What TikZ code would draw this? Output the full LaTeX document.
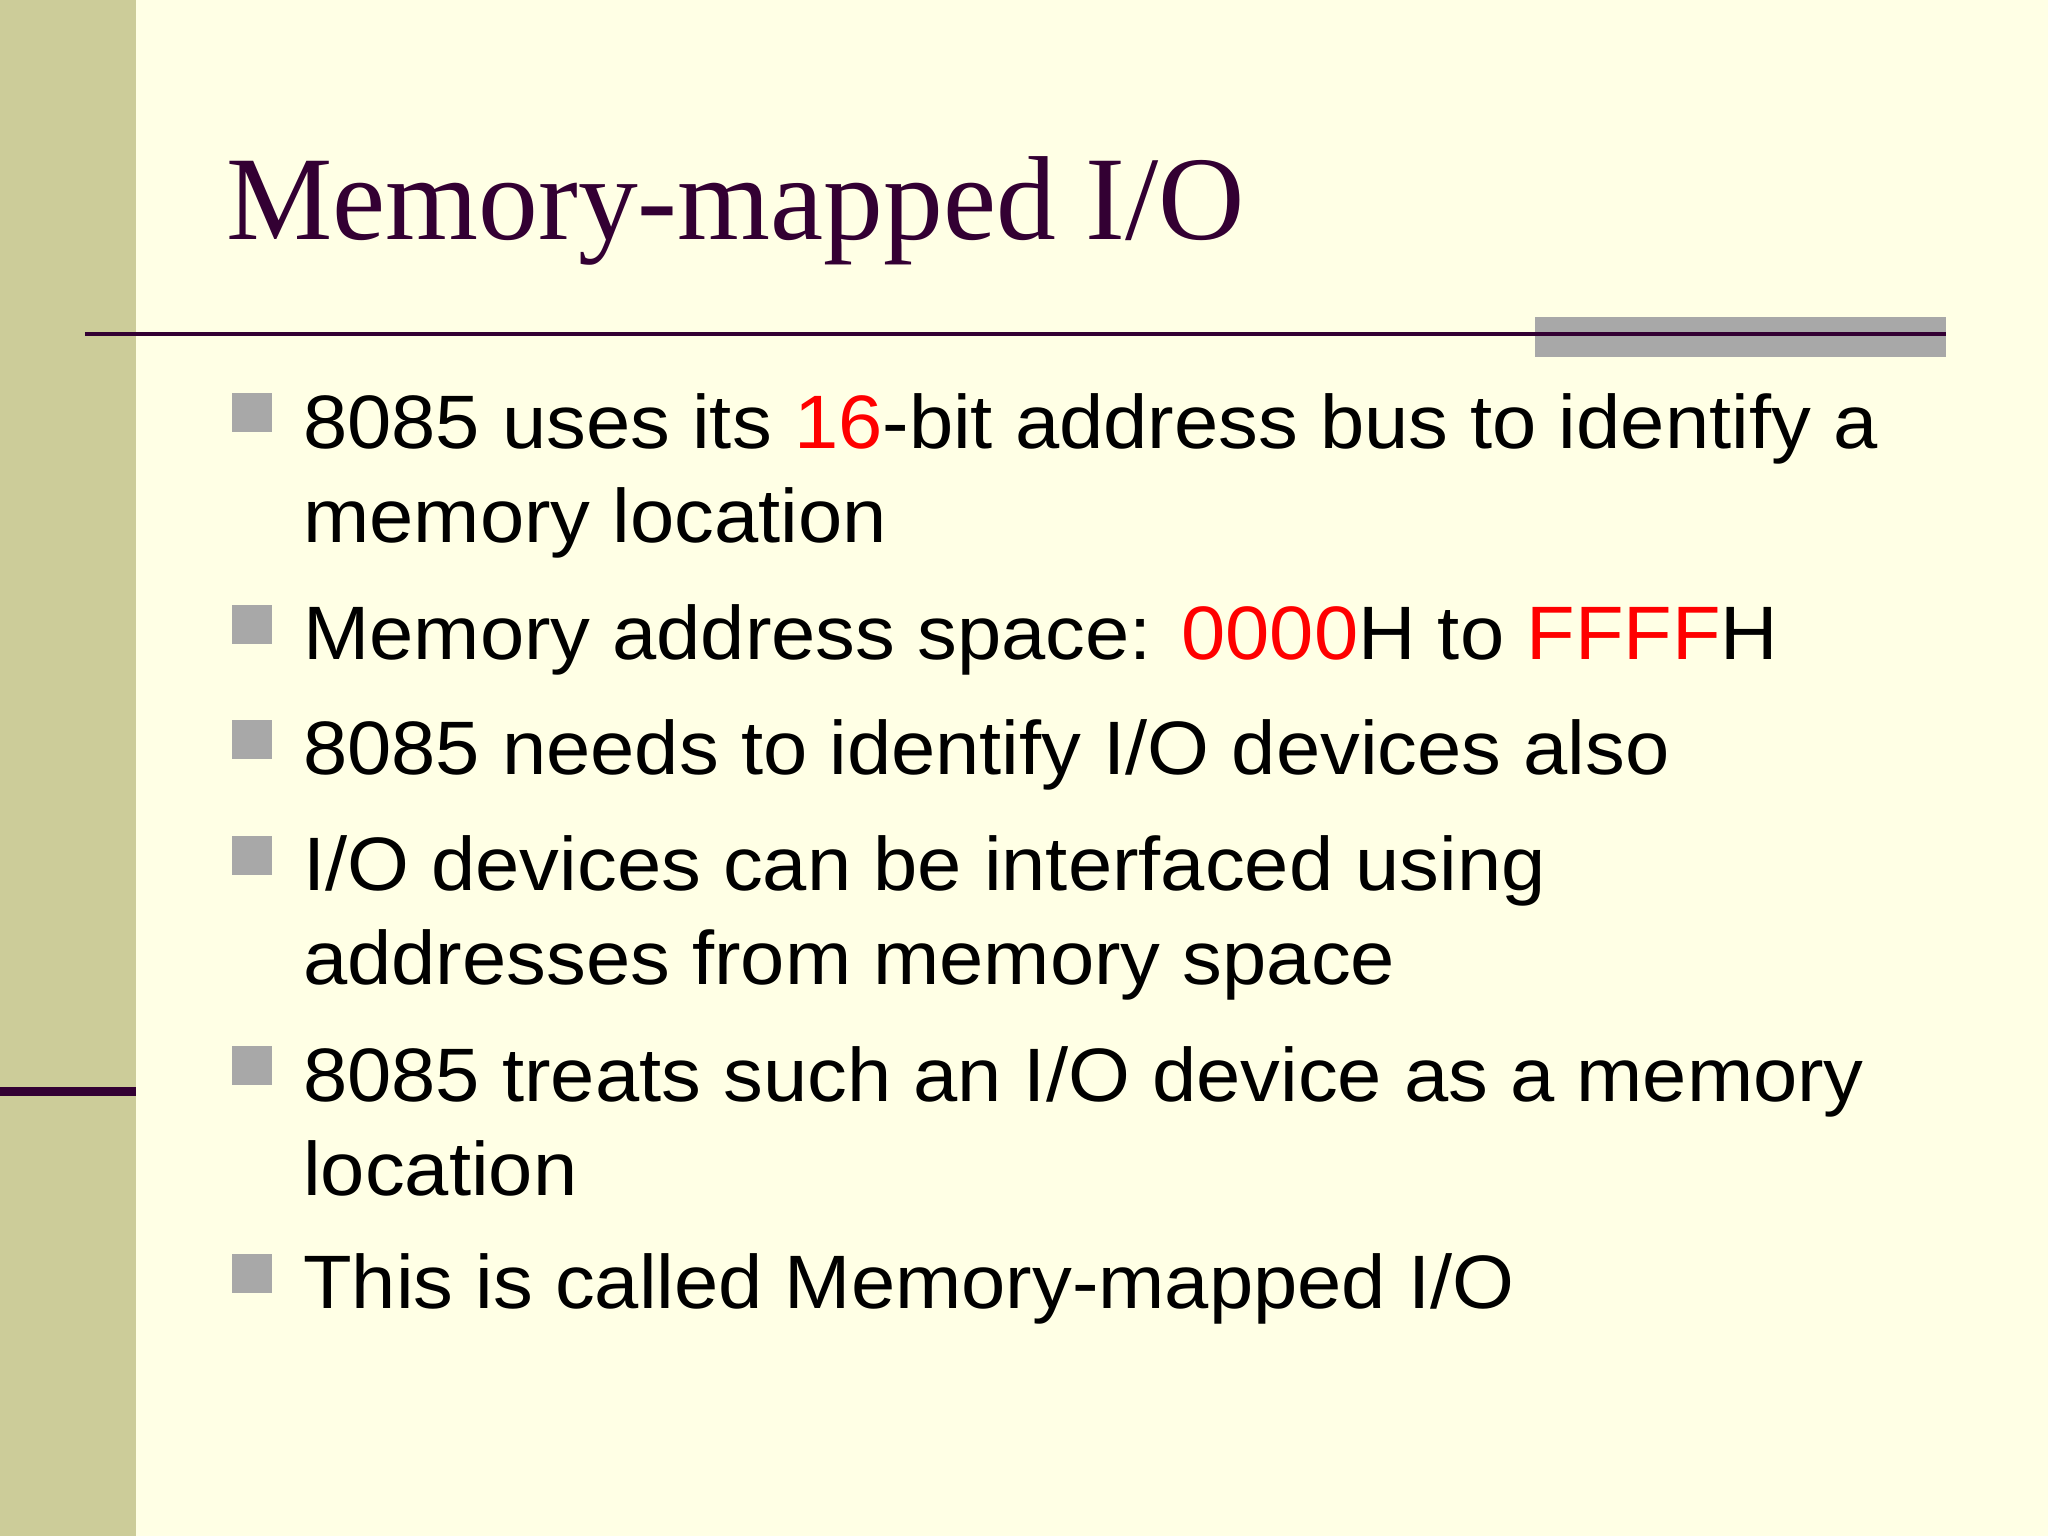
\documentclass[tikz,border=0pt]{standalone}
\usepackage{fontspec}
\setmainfont{Liberation Sans}[FakeStretch=1.05]
\newfontfamily\titlefont{Liberation Serif}
\definecolor{bg}{HTML}{FFFFE5}
\definecolor{bar}{HTML}{CCCC99}
\definecolor{plum}{HTML}{330033}
\definecolor{bul}{HTML}{A8A8A8}
\definecolor{hl}{HTML}{FF0000}
\begin{document}
\begin{tikzpicture}[x=1pt,y=-1pt,
  btext/.style={anchor=base west,inner sep=0pt,font=\fontsize{58}{72}\selectfont},
  bsq/.style={fill=bul,draw=none}]
\useasboundingbox (0,0) rectangle (1568,1176);
\fill[bg] (0,0) rectangle (1568,1176);
\fill[bar] (0,0) rectangle (104,1176);
\fill[plum] (0,832) rectangle (104,839);
\node[anchor=base west,inner sep=0pt,text=plum,font=\titlefont\fontsize{91.5}{100}\selectfont] (title) at (173,183) {Memory-mapped I/O};
\fill[bul] (1175,243) rectangle (1490,273);
\draw[plum,line width=3] (65,256) -- (1490,256);
\foreach \y in {343,505,593,682,843,1002}{\fill[bul] (178,{\y-42}) rectangle (208,{\y-12});}
\node[btext] (l1) at (232,343) {8085 uses its \textcolor{hl}{16}-bit address bus to identify a};
\node[btext] (l2) at (232,415) {memory location};
\node[btext] (l3) at (232,505) {Memory address space: \textcolor{hl}{0000}H to \textcolor{hl}{FFFF}H};
\node[btext] (l4) at (232,593) {8085 needs to identify I/O devices also};
\node[btext] (l5) at (232,682) {I/O devices can be interfaced using};
\node[btext] (l6) at (232,754) {addresses from memory space};
\node[btext] (l7) at (232,843) {8085 treats such an I/O device as a memory};
\node[btext] (l8) at (232,915) {location};
\node[btext] (l9) at (232,1002) {This is called Memory-mapped I/O};
\end{tikzpicture}
\end{document}
